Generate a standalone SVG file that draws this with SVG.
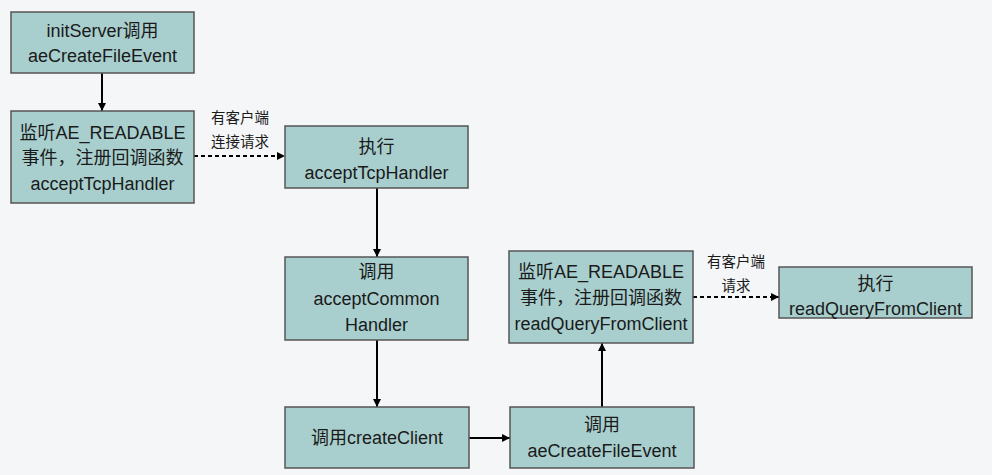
<svg xmlns="http://www.w3.org/2000/svg" width="992" height="475" viewBox="0 0 992 475">
<defs>
<marker id="ah" viewBox="0 0 10 10" refX="10" refY="5" markerWidth="8" markerHeight="8" markerUnits="userSpaceOnUse" orient="auto">
<path d="M0,0 L10,5 L0,10 z" fill="#000"/>
</marker>
</defs>
<style>
.box{fill:#a8cfce;stroke:#555;stroke-width:1.5}
.t{font-family:"Liberation Sans","Noto Sans CJK SC",sans-serif;font-size:18px;fill:#1a1a1a;text-anchor:middle}
.l{font-family:"Liberation Sans","Noto Sans CJK SC",sans-serif;font-size:14.5px;fill:#1a1a1a;text-anchor:middle}
.c{stroke:#000;stroke-width:2;fill:none}
.d{stroke:#000;stroke-width:2;fill:none;stroke-dasharray:4,3}
</style>
<rect width="992" height="475" fill="#f5f6f8"/>
<g id="connectors">
<line class="c" x1="102" y1="73" x2="102" y2="111" marker-end="url(#ah)"/>
<line class="d" x1="194" y1="156" x2="285" y2="156" marker-end="url(#ah)"/>
<line class="c" x1="377" y1="188" x2="377" y2="257" marker-end="url(#ah)"/>
<line class="c" x1="377" y1="340" x2="377" y2="407" marker-end="url(#ah)"/>
<line class="c" x1="469" y1="438" x2="510" y2="438" marker-end="url(#ah)"/>
<line class="c" x1="602" y1="407" x2="602" y2="343" marker-end="url(#ah)"/>
<line class="d" x1="693" y1="297" x2="779" y2="297" marker-end="url(#ah)"/>
<text class="l" x="240" y="123">有客户端</text>
<text class="l" x="240" y="147">连接请求</text>
<text class="l" x="736" y="267">有客户端</text>
<text class="l" x="736" y="291">请求</text>
</g>
<g id="n1"><rect class="box" x="11" y="12" width="183" height="61"/>
<text class="t" x="102.500" y="37">initServer调用</text>
<text class="t" x="102.500" y="62">aeCreateFileEvent</text></g>
<g id="n2"><rect class="box" x="11" y="111" width="183" height="92"/>
<text class="t" x="102.500" y="139">监听AE_READABLE</text>
<text class="t" x="102.500" y="164">事件，注册回调函数</text>
<text class="t" x="102.500" y="190">acceptTcpHandler</text></g>
<g id="n3"><rect class="box" x="285" y="126" width="183" height="62"/>
<text class="t" x="376.500" y="153">执行</text>
<text class="t" x="376.500" y="179">acceptTcpHandler</text></g>
<g id="n4"><rect class="box" x="285" y="257" width="183" height="83"/>
<text class="t" x="376.500" y="278">调用</text>
<text class="t" x="376.500" y="305">acceptCommon</text>
<text class="t" x="376.500" y="331">Handler</text></g>
<g id="n5"><rect class="box" x="285" y="407" width="184" height="61"/>
<text class="t" x="377" y="444">调用createClient</text></g>
<g id="n6"><rect class="box" x="510" y="407" width="184" height="61"/>
<text class="t" x="602" y="431">调用</text>
<text class="t" x="602" y="457">aeCreateFileEvent</text></g>
<g id="n7"><rect class="box" x="509" y="251" width="184" height="92"/>
<text class="t" x="601" y="278">监听AE_READABLE</text>
<text class="t" x="601" y="304">事件，注册回调函数</text>
<text class="t" x="601" y="330">readQueryFromClient</text></g>
<g id="n8"><rect class="box" x="779" y="267" width="193" height="51"/>
<text class="t" x="875.500" y="290">执行</text>
<text class="t" x="875.500" y="315">readQueryFromClient</text></g>
</svg>
